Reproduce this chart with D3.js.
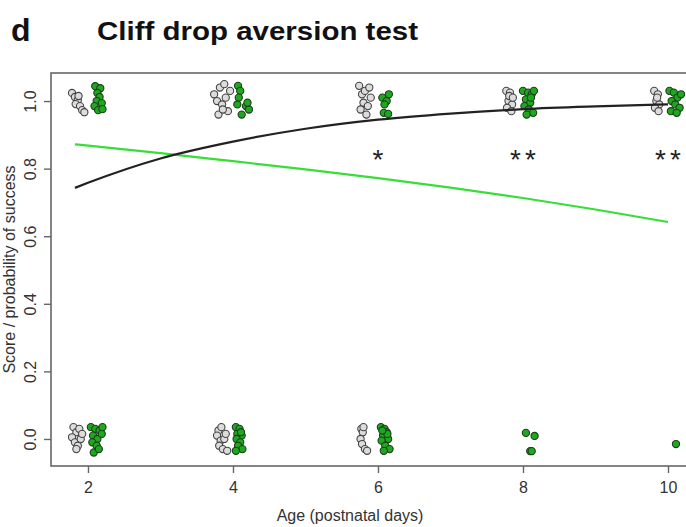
<!DOCTYPE html>
<html>
<head>
<meta charset="utf-8">
<script src="https://cdn.jsdelivr.net/npm/d3@7"></script>
<style>
  html, body { margin: 0; padding: 0; background: #fff; }
  svg { display: block; }
  text { font-family: "Liberation Sans", Arial, sans-serif; }
</style>
</head>
<body>
<svg id="chart" width="686" height="527"></svg>
<script>
// Tick labels
const xTicks = [2, 4, 6, 8, 10];
const yTicks = [0, 0.2, 0.4, 0.6, 0.8, 1.0];

// Fitted success curves: [age, probability]
const controlCurve = [
  [1.82, 0.743], [2, 0.758], [3, 0.83], [4, 0.88], [5, 0.918],
  [6, 0.945], [7, 0.963], [8, 0.976], [9, 0.984], [10, 0.99]
];
const treatedCurve = [
  [1.82, 0.872], [3, 0.846], [4, 0.822], [5, 0.798], [6, 0.772],
  [7, 0.744], [8, 0.713], [9, 0.679], [10, 0.642]
];

// Individual jittered scores: [age, score]
const controlPoints = [
  // day 2
  [1.78,1.024],[1.82,1.012],[1.86,1.003],[1.83,0.991],[1.89,0.985],[1.92,0.973],[1.95,0.967],[1.87,1.015],
  [1.80,0.035],[1.84,0.02],[1.78,0.005],[1.88,0.03],[1.82,-0.01],[1.86,-0.02],[1.90,0.0],[1.84,-0.03],[1.92,0.015],
  // day 4
  [3.74,1.02],[3.78,1.0],[3.82,1.04],[3.85,0.99],[3.88,1.05],[3.90,1.01],[3.93,0.97],[3.80,0.96],[3.96,1.03],[3.86,0.975],
  [3.80,0.025],[3.84,0.035],[3.78,0.01],[3.83,-0.005],[3.88,0.0],[3.81,-0.02],[3.86,-0.03],[3.92,-0.035],[3.90,0.015],
  // day 6
  [5.74,1.045],[5.78,1.02],[5.82,1.03],[5.80,0.995],[5.86,0.985],[5.76,0.975],[5.84,0.96],[5.90,1.01],[5.88,1.04],
  [5.77,0.03],[5.79,0.02],[5.76,0.0],[5.78,-0.015],[5.82,-0.03],[5.85,-0.035],[5.80,0.035],
  // day 8
  [7.77,1.03],[7.82,1.025],[7.80,1.0],[7.85,0.99],[7.78,0.98],[7.84,0.97],[7.81,1.015],[7.86,1.01],
  // day 10
  [9.81,1.03],[9.86,1.02],[9.84,1.0],[9.88,0.99],[9.82,0.98],[9.87,0.97],[9.85,1.01]
];
const treatedPoints = [
  // day 2
  [2.10,1.044],[2.17,1.038],[2.13,1.024],[2.16,1.012],[2.12,1.0],[2.19,0.994],[2.09,0.985],[2.14,0.973],[2.20,0.976],
  [2.04,0.035],[2.10,0.03],[2.16,0.025],[2.07,0.01],[2.13,0.0],[2.19,0.015],[2.06,-0.01],[2.12,-0.02],[2.08,-0.04],[2.15,-0.03],[2.20,0.035],
  // day 4
  [4.07,1.045],[4.10,1.03],[4.08,1.01],[4.18,0.985],[4.22,0.975],[4.12,0.96],[4.20,0.995],[4.06,0.99],
  [4.04,0.035],[4.09,0.03],[4.06,0.015],[4.12,0.01],[4.05,0.0],[4.10,-0.01],[4.07,-0.02],[4.13,-0.03],[4.04,-0.035],[4.11,0.02],
  // day 6
  [6.06,1.01],[6.12,1.0],[6.09,0.99],[6.15,1.02],[6.08,0.965],[6.14,0.962],
  [6.04,0.035],[6.09,0.03],[6.12,0.02],[6.07,0.01],[6.14,0.0],[6.05,-0.005],[6.10,-0.02],[6.16,-0.03],[6.08,-0.035],[6.13,0.015],[6.06,0.025],
  // day 8
  [8.00,1.03],[8.07,1.025],[8.12,1.02],[8.04,1.005],[8.10,0.995],[8.02,0.985],[8.08,0.975],[8.14,0.965],[8.05,0.96],[8.11,1.01],[8.15,1.03],
  [8.04,0.018],[8.16,0.009],[8.10,-0.036],[8.12,-0.036],
  // day 10
  [10.02,1.03],[10.08,1.025],[10.13,1.01],[10.05,1.0],[10.10,0.99],[10.16,0.98],[10.04,0.97],[10.12,0.965],[10.18,1.02],
  [10.11,-0.015]
];

// Significance marks
const starAges = [6, 8, 10];
const starLabels = ["*", "**", "**"];
const starLevel = 0.85;

const svg = d3.select("#chart");

const plot = { left: 51, top: 73, right: 726, bottom: 466 };
const x = d3.scaleLinear().domain([1.49, 10.8]).range([plot.left, plot.right]);
const y = d3.scaleLinear().domain([-0.08, 1.083]).range([plot.bottom, plot.top]);

// Titles
svg.append("text").attr("x", 11).attr("y", 41)
  .attr("font-family", "'Open Sans', sans-serif").attr("font-weight", 700)
  .attr("font-size", 32).attr("fill", "#111").text("d");
svg.append("text").attr("x", 97).attr("y", 40)
  .attr("font-family", "'Open Sans', sans-serif").attr("font-weight", 700)
  .attr("font-size", 25).attr("fill", "#111")
  .attr("textLength", 321).attr("lengthAdjust", "spacingAndGlyphs")
  .text("Cliff drop aversion test");

// Plot frame
svg.append("rect")
  .attr("x", plot.left).attr("y", plot.top)
  .attr("width", plot.right - plot.left).attr("height", plot.bottom - plot.top)
  .attr("fill", "none").attr("stroke", "#666").attr("stroke-width", 1.6);

// Axes
const xAxis = svg.append("g").attr("transform", `translate(0,${plot.bottom})`)
  .call(d3.axisBottom(x).tickValues(xTicks).tickSize(7).tickPadding(9).tickFormat(d3.format("d")));
xAxis.select(".domain").remove();
xAxis.selectAll("line").attr("stroke", "#666").attr("stroke-width", 1.4);
xAxis.selectAll("text").attr("font-size", 16).attr("fill", "#333");

const yAxis = svg.append("g").attr("transform", `translate(${plot.left},0)`)
  .call(d3.axisLeft(y).tickValues(yTicks).tickSize(7).tickFormat(d3.format(".1f")));
yAxis.select(".domain").remove();
yAxis.selectAll("line").attr("stroke", "#666").attr("stroke-width", 1.4);
yAxis.selectAll("text")
  .attr("font-size", 16).attr("fill", "#333")
  .attr("text-anchor", "middle").attr("dy", null).attr("x", null)
  .attr("transform", "translate(-15,0) rotate(-90)");

// Axis titles
svg.append("text").attr("x", 350).attr("y", 521)
  .attr("text-anchor", "middle").attr("font-size", 16).attr("fill", "#333")
  .text("Age (postnatal days)");
svg.append("text")
  .attr("transform", `translate(15,${(plot.top + plot.bottom) / 2}) rotate(-90)`)
  .attr("text-anchor", "middle").attr("font-size", 16).attr("fill", "#333")
  .text("Score / probability of success");

// Data points
svg.append("g").selectAll("circle").data(controlPoints).join("circle")
  .attr("cx", d => x(d[0])).attr("cy", d => y(d[1])).attr("r", 3.6)
  .attr("fill", "#dcdcdc").attr("stroke", "#444").attr("stroke-width", 1.1);
svg.append("g").selectAll("circle").data(treatedPoints).join("circle")
  .attr("cx", d => x(d[0])).attr("cy", d => y(d[1])).attr("r", 3.6)
  .attr("fill", "#1fa81f").attr("stroke", "#1d3d1d").attr("stroke-width", 1.1);

// Fitted curves
const line = d3.line().x(d => x(d[0])).y(d => y(d[1])).curve(d3.curveMonotoneX);
svg.append("path").datum(treatedCurve).attr("d", line)
  .attr("fill", "none").attr("stroke", "#38de38").attr("stroke-width", 2.2);
svg.append("path").datum(controlCurve).attr("d", line)
  .attr("fill", "none").attr("stroke", "#222").attr("stroke-width", 2.2);

// Significance stars
svg.append("g").selectAll("text").data(starAges).join("text")
  .attr("x", d => x(d) + 2).attr("y", y(starLevel) + 17)
  .attr("text-anchor", "middle").attr("font-size", 28).attr("fill", "#222")
  .attr("letter-spacing", 4)
  .text((d, i) => starLabels[i]);
</script>
</body>
</html>
